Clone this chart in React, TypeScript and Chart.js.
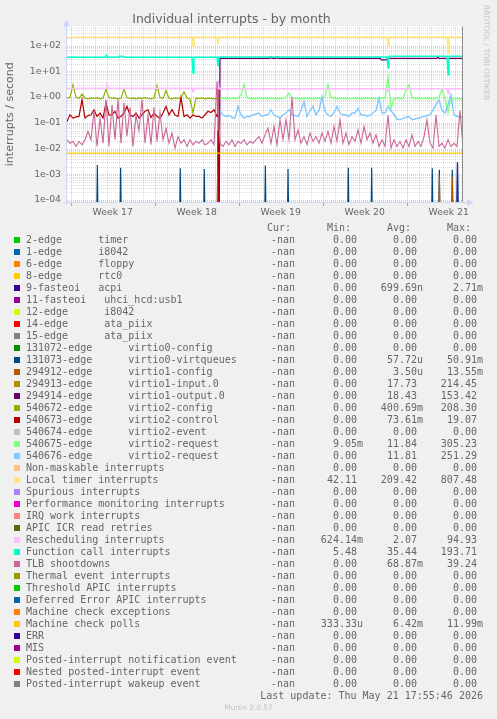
import React, { useEffect, useRef } from 'react';
import { Chart, registerables } from 'chart.js';

Chart.register(...registerables);

// ---------- text ----------
const TITLE = 'Individual interrupts - by month';
const Y_AXIS_TITLE = 'interrupts / second';
const WEEK_LABELS = ['Week 17', 'Week 18', 'Week 19', 'Week 20', 'Week 21'];
const WEEK_START_DAYS = [0.31, 7.31, 14.31, 21.31, 28.31];
const Y_TICK_VALUES = [1e-4, 1e-3, 1e-2, 1e-1, 1, 10, 100];
const Y_TICK_LABELS = ['1e-04', '1e-03', '1e-02', '1e-01', '1e+00', '1e+01', '1e+02'];
const X_MIN_DAY = 0;
const X_MAX_DAY = 33;
const Y_MIN = 8.36e-5;
const Y_MAX = 550;
const STEP_DAYS = 0.25; // 6 h between sampled values below
const SAMPLE_INTERVAL_DAYS = 1 / 12; // 2 h rrd step
const FLOOR = 1e-6; // zero on a log axis

// ---------- legend ----------
const LEGEND_LABELS = [
  '2-edge      timer',
  '1-edge      i8042',
  '6-edge      floppy',
  '8-edge      rtc0',
  '9-fasteoi   acpi',
  '11-fasteoi   uhci_hcd:usb1',
  '12-edge      i8042',
  '14-edge      ata_piix',
  '15-edge      ata_piix',
  '131072-edge      virtio0-config',
  '131073-edge      virtio0-virtqueues',
  '294912-edge      virtio1-config',
  '294913-edge      virtio1-input.0',
  '294914-edge      virtio1-output.0',
  '540672-edge      virtio2-config',
  '540673-edge      virtio2-control',
  '540674-edge      virtio2-event',
  '540675-edge      virtio2-request',
  '540676-edge      virtio2-request',
  'Non-maskable interrupts',
  'Local timer interrupts',
  'Spurious interrupts',
  'Performance monitoring interrupts',
  'IRQ work interrupts',
  'APIC ICR read retries',
  'Rescheduling interrupts',
  'Function call interrupts',
  'TLB shootdowns',
  'Thermal event interrupts',
  'Threshold APIC interrupts',
  'Deferred Error APIC interrupts',
  'Machine check exceptions',
  'Machine check polls',
  'ERR',
  'MIS',
  'Posted-interrupt notification event',
  'Nested posted-interrupt event',
  'Posted-interrupt wakeup event',
];
const LEGEND_COLORS = [
  '#00CC00', '#0066B3', '#FF8000', '#FFCC00', '#330099', '#990099', '#CCFF00', '#FF0000', '#808080',
  '#008F00', '#00487D', '#B35A00', '#B38F00', '#6B006B', '#8FB300', '#B30000', '#BEBEBE', '#80FF80',
  '#80C9FF', '#FFC080', '#FFE680', '#AA80FF', '#EE00CC', '#FF8080', '#666600', '#FFBFFF', '#00FFCC',
  '#CC6699', '#999900', '#00CC00', '#0066B3', '#FF8000', '#FFCC00', '#330099', '#990099', '#CCFF00',
  '#FF0000', '#808080',
];
const CUR_VALUES = LEGEND_LABELS.map(() => '-nan');
const MIN_VALUES = [
  '0.00 ', '0.00 ', '0.00 ', '0.00 ', '0.00 ', '0.00 ', '0.00 ', '0.00 ', '0.00 ', '0.00 ',
  '0.00 ', '0.00 ', '0.00 ', '0.00 ', '0.00 ', '0.00 ', '0.00 ', '9.05m', '0.00 ', '0.00 ',
  '42.11 ', '0.00 ', '0.00 ', '0.00 ', '0.00 ', '624.14m', '5.48 ', '0.00 ', '0.00 ', '0.00 ',
  '0.00 ', '0.00 ', '333.33u', '0.00 ', '0.00 ', '0.00 ', '0.00 ', '0.00 ',
];
const AVG_VALUES = [
  '0.00 ', '0.00 ', '0.00 ', '0.00 ', '699.69n', '0.00 ', '0.00 ', '0.00 ', '0.00 ', '0.00 ',
  '57.72u', '3.50u', '17.73 ', '18.43 ', '400.69m', '73.61m', '0.00 ', '11.84 ', '11.81 ', '0.00 ',
  '209.42 ', '0.00 ', '0.00 ', '0.00 ', '0.00 ', '2.07 ', '35.44 ', '68.87m', '0.00 ', '0.00 ',
  '0.00 ', '0.00 ', '6.42m', '0.00 ', '0.00 ', '0.00 ', '0.00 ', '0.00 ',
];
const MAX_VALUES = [
  '0.00 ', '0.00 ', '0.00 ', '0.00 ', '2.71m', '0.00 ', '0.00 ', '0.00 ', '0.00 ', '0.00 ',
  '50.91m', '13.55m', '214.45 ', '153.42 ', '208.30 ', '19.07 ', '0.00 ', '305.23 ', '251.29 ', '0.00 ',
  '807.48 ', '0.00 ', '0.00 ', '0.00 ', '0.00 ', '94.93 ', '193.71 ', '39.24 ', '0.00 ', '0.00 ',
  '0.00 ', '0.00 ', '11.99m', '0.00 ', '0.00 ', '0.00 ', '0.00 ', '0.00 ',
];
const LAST_UPDATE = 'Last update: Thu May 21 17:55:46 2026';
const MUNIN_VERSION = 'Munin 2.0.57';
const RRD_CREDIT = 'RRDTOOL / TOBI OETIKER';

// ---------- series ----------
// 540672-edge virtio2-config, every 6 h from day 0
const OLIVE_540672 = [
  0.9, 0.95, 3.0, 1.0, 0.88, 1.3, 0.9, 0.85, 0.92, 0.88,
  0.95, 0.85, 0.9, 2.0, 0.95, 0.88, 0.92, 0.85, 0.9, 2.0,
  0.95, 0.88, 0.9, 0.85, 0.92, 0.88, 0.95, 0.9, 0.85, 0.92,
  2.8, 0.95, 0.88, 1.8, 0.9, 0.85, 0.92, 0.88, 0.9, 1.6,
  0.92, 0.85, 0.24, 0.9, 0.88, 0.92, 0.85, 0.9, 0.88, 0.85,
  0.9,
];
// 540673-edge virtio2-control, every 6 h from day 0
const RED_540673 = [
  0.112, 0.205, 0.152, 0.17, 0.176, 0.79, 0.152, 0.19, 0.205, 0.32,
  0.176, 0.24, 0.152, 0.6, 0.2, 0.205, 0.28, 0.152, 0.18, 0.24,
  0.43, 0.2, 0.176, 0.24, 0.152, 0.205, 0.28, 0.32, 0.16, 0.24,
  0.176, 0.152, 0.24, 0.43, 0.205, 0.32, 0.2, 0.176, 0.95, 0.176,
  0.205, 0.152, 0.2, 0.176, 0.176, 0.152, 0.205, 0.28, 0.25, 0.32,
  0.176,
];
const RED_REBOOT_DAYS = [12.58, 12.67];
const RED_REBOOT_VALUES = [4.0, 0];
const REBOOT_START_DAY = 12.75;
// 540675-edge virtio2-request, every 6 h from day 12.75
const GREEN_540675 = [
  0.9, 0.88, 0.9, 0.85, 0.92, 0.88, 0.9, 1.2, 3.0, 0.95,
  0.88, 0.9, 0.85, 0.92, 0.88, 0.9, 0.85, 0.92, 0.88, 0.9,
  0.85, 0.9, 1.0, 1.4, 0.92, 0.88, 0.9, 0.85, 0.92, 0.88,
  0.9, 0.85, 0.9, 0.92, 0.88, 1.1, 3.0, 0.95, 0.9, 0.85,
  0.92, 0.88, 0.9, 0.85, 0.92, 0.88, 0.9, 0.85, 0.9, 0.92,
  0.88, 0.9, 0.85, 0.9, 0.92, 0.88, 6.0, 0.35, 0.9, 0.88,
  0.9, 0.85, 1.9, 3.0, 0.95, 0.88, 0.9, 0.85, 0.92, 0.88,
  0.9, 0.85, 0.9, 1.0, 1.9, 0.9, 0.24, 0.9, 0.85, 0.88,
  0.85, 0.82,
];
// 540676-edge virtio2-request, every 6 h from day 12.75
const BLUE_540676 = [
  0.3, 0.2, 0.176, 0.19, 0.16, 0.15, 0.43, 0.2, 0.152, 0.176,
  0.176, 0.205, 0.22, 0.24, 0.176, 0.2, 0.205, 0.32, 0.2, 0.176,
  0.152, 0.205, 0.24, 0.32, 0.205, 0.19, 0.176, 0.3, 0.68, 0.176,
  0.3, 0.43, 0.205, 0.3, 1.06, 0.28, 0.2, 0.176, 0.25, 0.43,
  0.24, 0.205, 0.2, 0.176, 0.24, 0.24, 0.37, 0.2, 0.205, 0.176,
  0.2, 0.24, 0.3, 0.92, 0.24, 0.24, 0.43, 0.3, 0.205, 0.14,
  0.131, 0.152, 0.16, 0.176, 0.131, 0.14, 0.152, 0.16, 0.176, 0.19,
  0.205, 0.32, 0.5, 0.79, 0.3, 0.24, 0.5, 1.23, 0.205, 0.176,
  0.176, 0.152,
];
// TLB shootdowns, every 6 h from day 0
const TLB_SHOOTDOWNS = [
  0.022, 0.016, 0.019, 0.012, 0.019, 0.014, 0.022, 0.046, 0.022, 0.3,
  0.012, 0.15, 0.016, 0.79, 0.012, 0.5, 0.022, 0.8, 0.016, 0.6,
  0.03, 0.4, 0.012, 0.2, 0.05, 0.8, 0.016, 0.2, 0.014, 0.4,
  0.019, 0.25, 0.022, 0.06, 0.016, 0.04, 0.0104, 0.029, 0.016, 0.022,
  0.012, 0.022, 0.014, 0.019, 0.016, 0.022, 0.014, 0.016, 0.022, 0.014,
  4.0, 0.016, 0.012, 0.019, 0.014, 0.022, 0.012, 0.019, 0.016, 0.022,
  0.014, 0.019, 0.016, 0.022, 0.029, 0.016, 0.034, 0.062, 0.016, 0.072,
  0.014, 0.131, 0.022, 0.131, 0.022, 1.0, 0.022, 0.053, 0.016, 0.029,
  0.014, 0.04, 0.019, 0.029, 0.016, 0.04, 0.019, 0.046, 0.016, 0.072,
  0.019, 0.131, 0.016, 0.04, 0.014, 0.029, 0.019, 0.053, 0.016, 0.072,
  0.022, 0.04, 0.016, 0.034, 0.012, 0.022, 0.012, 0.2, 0.0104, 0.022,
  0.012, 0.019, 0.0104, 0.022, 0.012, 0.034, 0.012, 0.019, 0.012, 0.029,
  0.13, 0.016, 0.0104, 0.2, 0.012, 0.016, 0.0104, 0.022, 0.012, 0.016,
  0.012, 0.3, 0.012,
];
// Local timer interrupts
const LOC_DAYS = [0, 10.42, 10.5, 10.58, 12.5, 12.58, 12.67, 26.67, 26.75, 26.83, 31.67, 31.75, 31.83, 33];
const LOC_VALUES = [210, 210, 92, 210, 210, 110, 212, 212, 94, 212, 212, 52, 212, 212];
// Rescheduling interrupts
const RESCHED_DAYS = [0, 3.25, 3.33, 3.42, 10.42, 10.5, 10.58, 12.5, 12.58, 12.67, 26.67, 26.75, 26.83, 31.67, 31.75, 31.83, 33];
const RESCHED_VALUES = [2.2, 2.2, 3.7, 2.25, 2.2, 1.66, 2.2, 2.2, 4.5, 2.1, 2.1, 1.6, 2.1, 2.1, 1.35, 2.1, 2.1];
// Function call interrupts
const FC_DAYS = [0, 3.2, 3.3, 3.4, 4.25, 4.33, 4.67, 4.75, 10.42, 10.5, 10.58, 12.5, 12.58, 12.67, 26.67, 26.75, 26.83, 31.67, 31.75, 31.83, 33];
const FC_VALUES = [35, 35, 42, 35, 35, 38, 38, 35, 35, 8.6, 35, 35, 15.6, 36, 36, 13.5, 38.5, 38.5, 7.4, 38.5, 38.5];
// 294914-edge virtio1-output.0
const PURPLE_DAYS = [12.67, 12.75, 16.9, 17.0, 17.1, 17.4, 17.5, 17.6, 26.1, 26.2, 26.6, 26.67, 30.8, 30.9, 31.0, 33];
const PURPLE_VALUES = [0, 32, 32, 36, 32, 32, 36, 32, 32, 28, 28, 32, 32, 35, 32, 32];
// Machine check polls
const MCP_DAYS = [0, 33];
const MCP_VALUES = [0.0066, 0.0066];
// isolated 2-hour spikes
const VQ_DAYS = [2.53, 4.47, 9.44, 11.44, 12.58, 16.53, 18.42, 23.44, 25.39, 30.44, 31.03, 32.11, 32.54];
const VQ_PEAKS = [2.3e-3, 1.8e-3, 1.7e-3, 1.6e-3, 0.05, 2.2e-3, 1.6e-3, 1.8e-3, 1.8e-3, 1.7e-3, 1.5e-3, 1.5e-3, 3.0e-3];
const ACPI_DAYS = [32.54];
const ACPI_PEAKS = [2.7e-3];
const V1CFG_DAYS = [12.58, 31.03, 32.11];
const V1CFG_PEAKS = [0.0135, 8e-4, 8e-4];

// ---------- helpers ----------
const pos = (v: number) => (v > 0 ? v : FLOOR);
const sampled = (values: number[], start: number) =>
  values.map((v, i) => ({ x: start + i * STEP_DAYS, y: pos(v) }));
const points = (days: number[], values: number[]) => days.map((d, i) => ({ x: d, y: pos(values[i]) }));
const spikes = (days: number[], peaks: number[]) =>
  days.flatMap((d, i) => [
    { x: d - SAMPLE_INTERVAL_DAYS, y: FLOOR },
    { x: d, y: peaks[i] },
    { x: d + SAMPLE_INTERVAL_DAYS, y: FLOOR },
  ]);

const SERIES: { idx: number; w: number; data: { x: number; y: number }[] }[] = [
  { idx: 4, w: 1.2, data: spikes(ACPI_DAYS, ACPI_PEAKS) },
  { idx: 10, w: 1.2, data: spikes(VQ_DAYS, VQ_PEAKS) },
  { idx: 11, w: 1.2, data: spikes(V1CFG_DAYS, V1CFG_PEAKS) },
  { idx: 13, w: 1.3, data: points(PURPLE_DAYS, PURPLE_VALUES) },
  { idx: 14, w: 1.2, data: sampled(OLIVE_540672, 0) },
  { idx: 15, w: 1.2, data: [...sampled(RED_540673, 0), ...points(RED_REBOOT_DAYS, RED_REBOOT_VALUES)] },
  { idx: 17, w: 1.4, data: sampled(GREEN_540675, REBOOT_START_DAY) },
  { idx: 18, w: 1.4, data: sampled(BLUE_540676, REBOOT_START_DAY) },
  { idx: 20, w: 1.6, data: points(LOC_DAYS, LOC_VALUES) },
  { idx: 25, w: 1.6, data: points(RESCHED_DAYS, RESCHED_VALUES) },
  { idx: 26, w: 1.5, data: points(FC_DAYS, FC_VALUES) },
  { idx: 27, w: 1.1, data: sampled(TLB_SHOOTDOWNS, 0) },
  { idx: 32, w: 1.4, data: points(MCP_DAYS, MCP_VALUES) },
];

const GRID_MINOR = 'rgba(170,170,170,0.42)';
const GRID_MAJOR = 'rgba(255,120,120,0.5)';
const AXIS_COLOR = '#CFD6F8';

const muninPlugin = {
  id: 'muninFrame',
  beforeDraw(chart: any) {
    const { ctx, chartArea: a } = chart;
    ctx.save();
    ctx.fillStyle = '#F0F0F0';
    ctx.fillRect(0, 0, chart.width, chart.height);
    ctx.fillStyle = '#FFFFFF';
    ctx.fillRect(a.left, a.top, a.right - a.left, a.bottom - a.top);
    ctx.restore();
  },
  beforeDatasetsDraw(chart: any) {
    const { ctx, chartArea: a, scales } = chart;
    const x = scales.x;
    const y = scales.y;
    ctx.save();
    ctx.lineWidth = 1;
    ctx.setLineDash([1, 1]);
    for (let e = -5; e <= 3; e++) {
      for (let m = 1; m <= 9; m++) {
        const v = m * Math.pow(10, e);
        if (v < y.min || v > y.max) continue;
        const py = Math.round(y.getPixelForValue(v)) + 0.5;
        ctx.strokeStyle = m === 1 ? GRID_MAJOR : GRID_MINOR;
        ctx.beginPath();
        ctx.moveTo(a.left, py);
        ctx.lineTo(a.right, py);
        ctx.stroke();
      }
    }
    for (let k = 0; WEEK_START_DAYS[0] + k <= X_MAX_DAY; k++) {
      const d = WEEK_START_DAYS[0] + k;
      const px = Math.round(x.getPixelForValue(d)) + 0.5;
      ctx.strokeStyle = k % 7 === 0 ? GRID_MAJOR : GRID_MINOR;
      ctx.beginPath();
      ctx.moveTo(px, a.top);
      ctx.lineTo(px, a.bottom);
      ctx.stroke();
    }
    ctx.restore();
  },
  afterDatasetsDraw(chart: any) {
    const { ctx, chartArea: a, scales } = chart;
    const x = scales.x;
    ctx.save();
    ctx.setLineDash([]);
    ctx.lineWidth = 1;
    // right edge rule
    ctx.strokeStyle = '#8C8C8C';
    const rx = Math.round(x.getPixelForValue(X_MAX_DAY)) - 0.5;
    ctx.beginPath();
    ctx.moveTo(rx, a.top);
    ctx.lineTo(rx, a.bottom);
    ctx.stroke();
    // week ticks below axis
    ctx.strokeStyle = 'rgba(255,90,90,0.7)';
    WEEK_START_DAYS.forEach((d) => {
      const px = Math.round(x.getPixelForValue(d)) + 0.5;
      ctx.beginPath();
      ctx.moveTo(px, a.bottom);
      ctx.lineTo(px, a.bottom + 4);
      ctx.stroke();
    });
    // axes
    ctx.strokeStyle = AXIS_COLOR;
    ctx.fillStyle = AXIS_COLOR;
    const lx = a.left - 0.5;
    const by = a.bottom + 0.5;
    ctx.beginPath();
    ctx.moveTo(lx, a.bottom + 3);
    ctx.lineTo(lx, a.top - 2);
    ctx.stroke();
    ctx.beginPath();
    ctx.moveTo(a.left - 4, by);
    ctx.lineTo(a.right + 5, by);
    ctx.stroke();
    ctx.beginPath();
    ctx.moveTo(lx, a.top - 7);
    ctx.lineTo(lx - 3.5, a.top);
    ctx.lineTo(lx + 3.5, a.top);
    ctx.closePath();
    ctx.fill();
    ctx.beginPath();
    ctx.moveTo(a.right + 11, by);
    ctx.lineTo(a.right + 4, by - 3.5);
    ctx.lineTo(a.right + 4, by + 3.5);
    ctx.closePath();
    ctx.fill();
    ctx.restore();
  },
};

const MONO: React.CSSProperties = {
  position: 'absolute',
  fontFamily: '"DejaVu Sans Mono", monospace',
  fontSize: 10,
  lineHeight: '12px',
  height: 12,
  whiteSpace: 'pre',
  color: '#666666',
};

const LEGEND_FIRST_ROW_Y = 240;
const LEGEND_ROW_H = 12;
const HEADER_Y = 227.5;
const COL_CUR_RIGHT = 295;
const COL_MIN_RIGHT = 363;
const COL_AVG_RIGHT = 423;
const COL_MAX_RIGHT = 483;

function RightText({ right, top, text, width = 120 }: { right: number; top: number; text: string; width?: number }) {
  return <div style={{ ...MONO, left: right - width, width, textAlign: 'right', top }}>{text}</div>;
}

export default function App() {
  const ref = useRef<HTMLCanvasElement>(null);

  useEffect(() => {
    if (!ref.current) return;
    Chart.defaults.font.family = "'DejaVu Sans', sans-serif";
    const chart = new Chart(ref.current, {
      type: 'line',
      data: {
        datasets: SERIES.map((s) => ({
          label: LEGEND_LABELS[s.idx],
          data: s.data,
          borderColor: LEGEND_COLORS[s.idx],
          backgroundColor: LEGEND_COLORS[s.idx],
          borderWidth: s.w,
          pointRadius: 0,
          tension: 0,
          fill: false,
          order: -s.idx,
        })),
      },
      options: {
        animation: false,
        responsive: false,
        maintainAspectRatio: false,
        devicePixelRatio: 1,
        events: [],
        layout: { padding: { left: 0, right: 34, top: 0, bottom: 487 } },
        plugins: {
          legend: { display: false },
          tooltip: { enabled: false },
          title: {
            display: true,
            text: TITLE,
            color: '#666666',
            font: { family: "'DejaVu Sans', sans-serif", size: 12.5, weight: 'normal', lineHeight: 1 },
            padding: { top: 13.5, bottom: 0.5 },
          },
        },
        scales: {
          x: {
            type: 'linear',
            min: X_MIN_DAY,
            max: X_MAX_DAY,
            afterBuildTicks: (s: any) => {
              s.ticks = WEEK_START_DAYS.map((d) => ({ value: d + 3.5 }));
            },
            afterFit: (s: any) => {
              s.height = 30;
            },
            grid: { display: false, drawTicks: false },
            border: { display: false },
            ticks: {
              callback: (_v: any, i: number) => WEEK_LABELS[i],
              color: '#666666',
              font: { size: 9.3 },
              padding: 5,
              maxRotation: 0,
              autoSkip: false,
            },
          },
          y: {
            type: 'logarithmic',
            min: Y_MIN,
            max: Y_MAX,
            afterBuildTicks: (s: any) => {
              s.ticks = Y_TICK_VALUES.map((v) => ({ value: v }));
            },
            afterFit: (s: any) => {
              s.width = 67;
            },
            grid: { display: false, drawTicks: false },
            border: { display: false },
            ticks: {
              callback: (_v: any, i: number) => Y_TICK_LABELS[i],
              color: '#666666',
              font: { size: 9.3 },
              padding: 6,
              autoSkip: false,
            },
            title: {
              display: true,
              text: Y_AXIS_TITLE,
              color: '#666666',
              font: { size: 11 },
              padding: { top: 4, bottom: 0 },
            },
          },
        },
      },
      plugins: [muninPlugin],
    } as any);
    return () => chart.destroy();
  }, []);

  return (
    <div
      style={{
        position: 'fixed',
        left: 0,
        top: 0,
        width: 497,
        height: 719,
        background: '#F0F0F0',
        overflow: 'hidden',
      }}
    >
      <canvas ref={ref} width={497} height={719} style={{ position: 'absolute', left: 0, top: 0, width: 497, height: 719 }} />
      <div
        style={{
          position: 'absolute',
          left: 490,
          top: 5,
          transformOrigin: 'left top',
          transform: 'rotate(90deg)',
          fontFamily: "'DejaVu Sans', sans-serif",
          fontSize: 7.4,
          lineHeight: '8px',
          whiteSpace: 'nowrap',
          color: '#C4C4C4',
        }}
      >
        {RRD_CREDIT}
      </div>
      <div style={{ ...MONO, left: 267, top: HEADER_Y - 6 }}>Cur:</div>
      <div style={{ ...MONO, left: 327, top: HEADER_Y - 6 }}>Min:</div>
      <div style={{ ...MONO, left: 387, top: HEADER_Y - 6 }}>Avg:</div>
      <div style={{ ...MONO, left: 447, top: HEADER_Y - 6 }}>Max:</div>
      {LEGEND_LABELS.map((label, i) => {
        const cy = LEGEND_FIRST_ROW_Y + i * LEGEND_ROW_H;
        return (
          <React.Fragment key={i}>
            <div
              style={{ position: 'absolute', left: 14, top: cy - 3, width: 6, height: 6, background: LEGEND_COLORS[i] }}
            />
            <div style={{ ...MONO, left: 26, top: cy - 6 }}>{label}</div>
            <RightText right={COL_CUR_RIGHT} top={cy - 6} text={CUR_VALUES[i]} />
            <RightText right={COL_MIN_RIGHT} top={cy - 6} text={MIN_VALUES[i]} />
            <RightText right={COL_AVG_RIGHT} top={cy - 6} text={AVG_VALUES[i]} />
            <RightText right={COL_MAX_RIGHT} top={cy - 6} text={MAX_VALUES[i]} />
          </React.Fragment>
        );
      })}
      <RightText
        right={483}
        width={320}
        top={LEGEND_FIRST_ROW_Y + LEGEND_LABELS.length * LEGEND_ROW_H - 6}
        text={LAST_UPDATE}
      />
      <div
        style={{
          position: 'absolute',
          left: 0,
          width: 497,
          top: 703,
          textAlign: 'center',
          fontFamily: "'DejaVu Sans', sans-serif",
          fontSize: 7.4,
          lineHeight: '10px',
          color: '#C4C4C4',
        }}
      >
        {MUNIN_VERSION}
      </div>
    </div>
  );
}
